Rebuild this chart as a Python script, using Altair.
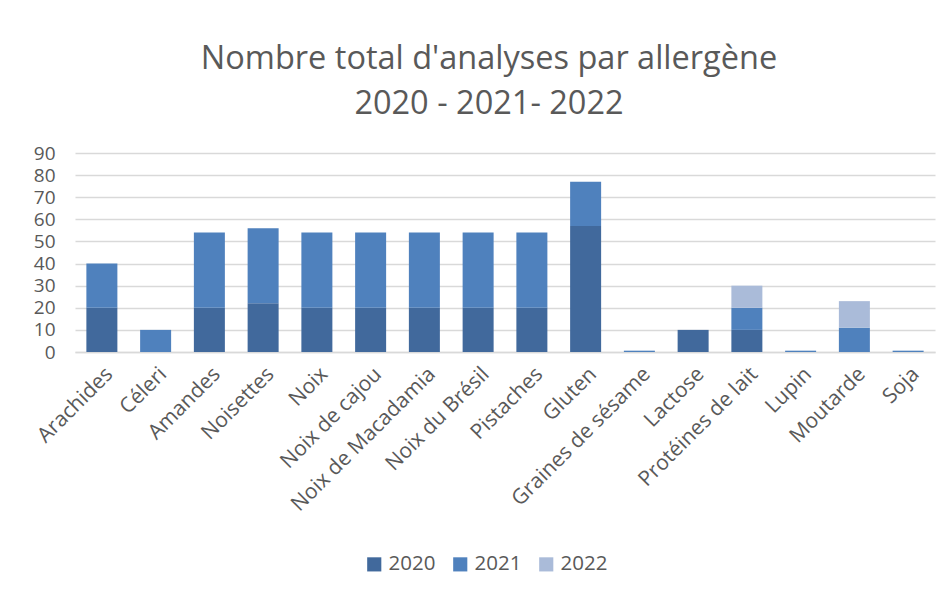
import altair as alt
import pandas as pd

categories = ["Arachides", "Céleri", "Amandes", "Noisettes", "Noix", "Noix de cajou",
              "Noix de Macadamia", "Noix du Brésil", "Pistaches", "Gluten",
              "Graines de sésame", "Lactose", "Protéines de lait", "Lupin", "Moutarde", "Soja"]
years = ["2020", "2021", "2022"]
v2020 = [20, 0, 20, 22, 20, 20, 20, 20, 20, 57, 0, 10, 10, 0, 0, 0]
v2021 = [20, 10, 34, 34, 34, 34, 34, 34, 34, 20, 0.6, 0, 10, 0.6, 11, 0.6]
v2022 = [0, 0, 0, 0, 0, 0, 0, 0, 0, 0, 0, 0, 10, 0, 12, 0]
colors = ["#41699c", "#4f81bd", "#aabbd9"]

rows = []
for i, c in enumerate(categories):
    for k, (y, vals) in enumerate(zip(years, [v2020, v2021, v2022])):
        rows.append({"cat": c, "year": y, "value": vals[i], "ord": k})
df = pd.DataFrame(rows)

FONT = "Open Sans"
GREY = "#595959"

chart = alt.Chart(df).mark_bar(size=31).encode(
    x=alt.X("cat:N", sort=categories, title=None,
            axis=alt.Axis(labelAngle=-45, labelAlign="right", labelBaseline="top",
                          labelFontSize=21, labelColor=GREY, labelFont=FONT,
                          ticks=False, domainColor="#d9d9d9", domainWidth=1.5,
                          labelPadding=11, grid=False, labelOverlap=False, labelLimit=400)),
    y=alt.Y("value:Q", stack="zero", title=None,
            scale=alt.Scale(domain=[0, 90], nice=False),
            axis=alt.Axis(values=list(range(0, 91, 10)), labelFontSize=19, labelColor=GREY,
                          labelFont=FONT, domain=False, ticks=False, gridColor="#d9d9d9",
                          gridWidth=1.5, labelPadding=20)),
    color=alt.Color("year:N", scale=alt.Scale(domain=years, range=colors),
                    legend=alt.Legend(title=None, orient="none", direction="horizontal",
                                      legendX=289, legendY=401, symbolType="square",
                                      symbolSize=200, symbolStrokeWidth=0,
                                      labelFontSize=20.5, labelColor=GREY, labelFont=FONT,
                                      columnPadding=14)),
    order=alt.Order("ord:Q", sort="ascending"),
).properties(
    width=860, height=199,
    title=alt.Title(["Nombre total d'analyses par allergène", "2020 - 2021- 2022"],
                    fontSize=32.5, font=FONT, color=GREY, fontWeight="normal",
                    lineHeight=45, anchor="middle", offset=24, dx=-16),
    autosize=alt.AutoSizeParams(type="none"),
    padding={"left": 67, "top": 145, "right": 6, "bottom": 235},
    background="white",
).configure_view(stroke=None)

chart.save("out.html", embed_options={"renderer": "svg", "actions": False})
